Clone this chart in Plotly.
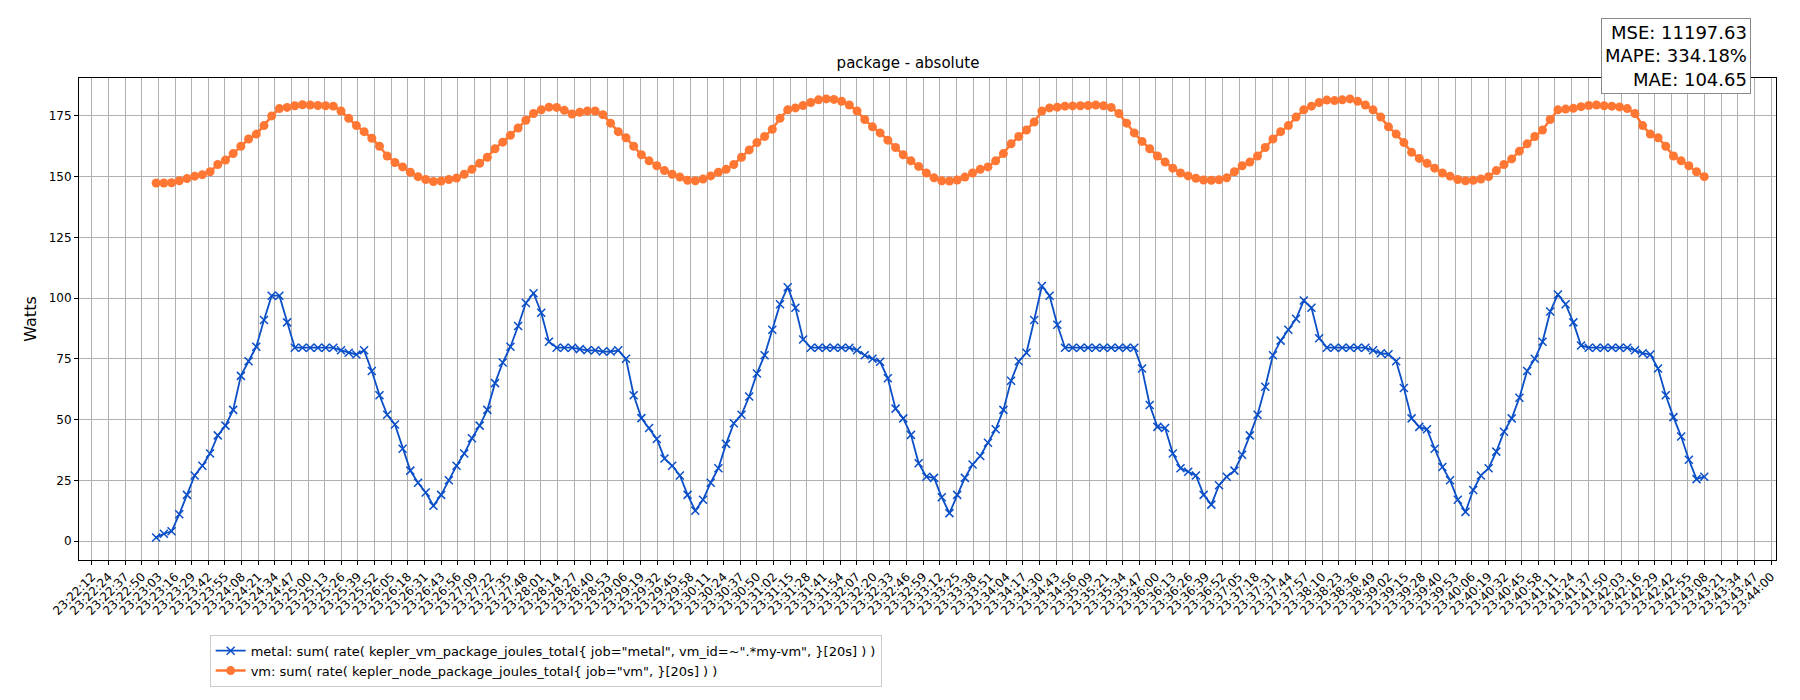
import plotly.graph_objects as go
import numpy as np
import pandas as pd

# sampling of both series: one point every 6 s
start_time = pd.Timestamp("2024-01-01 23:23:02")
step_s = 6

metal = [1.5, 3, 4, 11, 19, 27, 31, 36, 43.5, 47.5,
         54, 68, 74, 80, 91, 101, 101, 90, 79.6, 79.6,
         79.6, 79.6, 79.6, 79.6, 78.5, 77.5, 76.8, 78.5, 70, 60,
         52, 48, 38, 29, 24, 20, 14.5, 19, 25, 31,
         36, 42.3, 47.5, 54, 65, 73.5, 80, 88.5, 98, 102,
         94, 82, 79.6, 79.6, 79.6, 79, 78.5, 78.5, 78, 78,
         78.5, 75, 60, 50.6, 46.5, 42, 34, 31, 27, 19,
         12.5, 17, 24, 30, 40, 48.5, 52, 59.5, 69, 76.5,
         87, 97.5, 104.5, 96, 83, 79.6, 79.6, 79.6, 79.6, 79.6,
         79.6, 78.5, 76.5, 75, 73.8, 67, 54.5, 50.5, 43.7, 32,
         26.5, 26, 18, 11.5, 19, 26, 31.5, 35, 40.5, 46,
         54, 66, 74, 77.5, 91, 105, 101, 89, 79.6, 79.6,
         79.6, 79.6, 79.6, 79.6, 79.6, 79.6, 79.6, 79.6, 71, 56,
         47, 46.5, 36, 30, 28.5, 27, 19, 15, 23, 26.5,
         29, 35.5, 43.5, 52, 63.5, 76.5, 82.5, 87, 91.5, 99,
         96, 83.5, 79.6, 79.6, 79.6, 79.6, 79.6, 79.6, 78.5, 77.3,
         76.9, 74, 63, 50.5, 47, 46, 38, 30.5, 25, 17,
         12, 21, 27, 30, 36.8, 45, 50.5, 59, 70, 75,
         82, 94.5, 101.5, 97.5, 90, 80.5, 79.6, 79.6, 79.6, 79.6,
         79.6, 79.6, 78.5, 77.3, 76.8, 71, 60, 51, 43, 33.5,
         25.5, 26.5]

vm = [147.4, 147.4, 147.5, 148.3, 149.2, 150.2, 150.8, 152, 155, 156.8,
      159.5, 162.5, 165.5, 167.5, 171, 175, 178, 178.5, 179.2, 179.6,
      179.5, 179.3, 179.2, 179, 177, 174, 171, 168.5, 165.8, 162.5,
      158.5, 155.8, 154, 151.8, 150, 148.8, 148, 148.2, 148.8, 149.4,
      151, 153, 155.5, 158, 161.5, 164.2, 167, 170, 173.2, 176,
      177.5, 178.6, 178.5, 177.3, 175.8, 176.5, 177, 177, 175.5, 172,
      168.5, 166, 162.5, 159, 156.5, 154.5, 152.5, 151, 149.8, 148.5,
      148.3, 149, 150.3, 151.8, 153, 155, 158, 161, 164, 166.5,
      169.5, 174, 177.5, 178.3, 179.3, 180.5, 181.6, 182, 181.8, 181,
      179.5, 177, 173.5, 170.5, 168, 165, 162, 159, 156.5, 154.2,
      151.5, 149.5, 148.3, 148.2, 148.6, 149.8, 151.5, 153, 154, 156.5,
      159.5, 163.5, 166.5, 169.2, 172.5, 177, 178.3, 178.6, 179, 179.1,
      179.2, 179.3, 179.5, 179.2, 178.5, 176, 172, 168, 164.5, 161.5,
      158.5, 156, 153.5, 151.5, 150.3, 149.3, 148.6, 148.5, 148.7, 149.5,
      152, 154.5, 156, 158.5, 162, 165.5, 168.5, 171, 174.5, 177.5,
      179, 180.5, 181.5, 181.3, 181.6, 182, 181, 179.5, 177.5, 174.5,
      170.5, 167.5, 164, 160, 157.5, 155.5, 153.5, 151.5, 150.2, 148.8,
      148.3, 148.5, 149, 150, 152.5, 155, 157.3, 160.5, 163.5, 166.5,
      169.2, 173.5, 177.5, 177.8, 178.1, 178.8, 179.3, 179.5, 179.2, 179,
      178.7, 178, 176, 171, 167.5, 166, 162.5, 158.5, 156.5, 154.5,
      152, 150]

metal_name = 'metal: sum( rate( kepler_vm_package_joules_total{ job="metal", vm_id=~".*my-vm", }[20s] ) )'
vm_name = 'vm: sum( rate( kepler_node_package_joules_total{ job="vm", }[20s] ) )'
stats_text = "MSE: 11197.63<br>MAPE: 334.18%<br>MAE: 104.65"

# x tick grid: 102 evenly spaced ticks between these two times
tick_start = pd.Timestamp("2024-01-01 23:22:12")
tick_end = pd.Timestamp("2024-01-01 23:44:00")
n_ticks = 102

times = [start_time + pd.Timedelta(seconds=step_s * i) for i in range(len(metal))]
span = (tick_end - tick_start).total_seconds()
tick_vals = [tick_start + pd.Timedelta(seconds=s) for s in np.linspace(0, span, n_ticks)]
tick_text = [t.strftime("%H:%M:%S") for t in tick_vals]
tick_w = span / (n_ticks - 1)
x_lo = tick_start - pd.Timedelta(seconds=0.78 * tick_w)
x_hi = tick_start + pd.Timedelta(seconds=101.3 * tick_w)

fig = go.Figure()
fig.add_trace(go.Scatter(x=times, y=metal, mode="lines+markers", name=metal_name,
                         line=dict(color="#0a4fc8", width=1.8),
                         marker=dict(symbol="x-thin", size=8,
                                     line=dict(color="#0a4fc8", width=1.5))))
fig.add_trace(go.Scatter(x=times, y=vm, mode="lines+markers", name=vm_name,
                         line=dict(color="#ff7733", width=2.5),
                         marker=dict(symbol="circle", size=9, color="#ff7733")))

fig.add_annotation(text=stats_text, xref="paper", yref="paper", x=0.985, y=1.125,
                   xanchor="right", yanchor="top", align="right", showarrow=False,
                   font=dict(family="DejaVu Sans", size=18, color="black"),
                   bordercolor="#888888", borderwidth=1, borderpad=3, bgcolor="white")

axis_common = dict(showgrid=True, gridcolor="#b0b0b0", gridwidth=1,
                   showline=True, linecolor="black", linewidth=1, mirror=True,
                   ticks="outside", ticklen=4, tickcolor="black", zeroline=False)

fig.update_layout(
    width=1800, height=700,
    paper_bgcolor="white", plot_bgcolor="white",
    font=dict(family="DejaVu Sans", size=13, color="black"),
    margin=dict(l=71, r=32, t=70, b=148),
    title=dict(text="package - absolute", x=0.5, xanchor="center", y=0.915,
               yanchor="bottom", font=dict(size=15)),
    showlegend=True,
    legend=dict(x=0.077, y=-0.155, xanchor="left", yanchor="top",
                bordercolor="#cccccc", borderwidth=1, bgcolor="white",
                font=dict(size=13), tracegroupgap=0),
)
fig.update_xaxes(type="date", range=[x_lo, x_hi], tickvals=tick_vals, ticktext=tick_text,
                 tickangle=-45, tickfont=dict(size=12), **axis_common)
fig.update_yaxes(range=[-7.8, 190.6], tickvals=[0, 25, 50, 75, 100, 125, 150, 175],
                 title=dict(text="Watts", standoff=8), tickfont=dict(size=12), **axis_common)

fig.write_html("out.html")
